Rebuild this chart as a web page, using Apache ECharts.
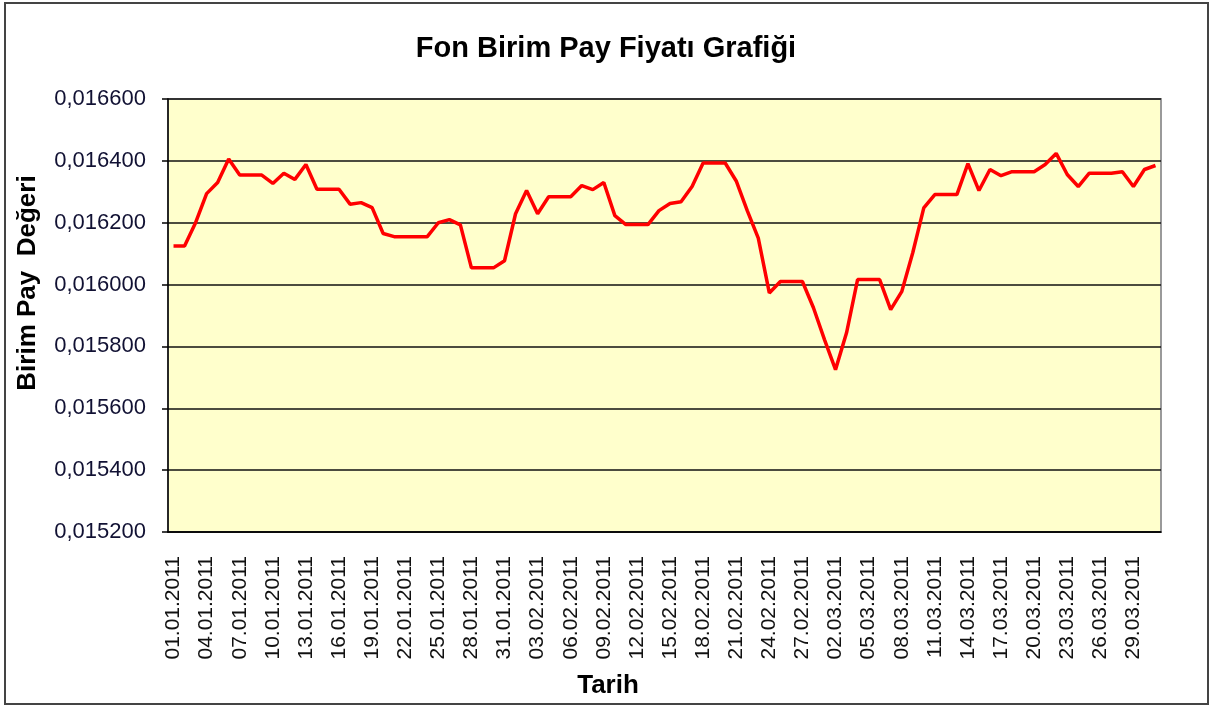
<!DOCTYPE html>
<html>
<head>
<meta charset="utf-8">
<title>Fon Birim Pay Fiyatı Grafiği</title>
<script src="https://cdn.jsdelivr.net/npm/echarts@6/dist/echarts.min.js"></script>
<style>
  html, body { margin: 0; padding: 0; background: #fff; }
  #chart { width: 1211px; height: 707px; }
</style>
</head>
<body>
<div id="chart"></div>
<script>
// gunluk tarihler 01.01.2011 - 31.03.2011
var monthDays = [31, 28, 31];
var dates = [];
for (var m = 0; m < monthDays.length; m++) {
  for (var d = 1; d <= monthDays[m]; d++) {
    dates.push((d < 10 ? '0' + d : '' + d) + '.0' + (m + 1) + '.2011');
  }
}

// birim pay fiyati
var prices = [
  0.016125, 0.016125, 0.016200, 0.016294, 0.016330, 0.016406, 0.016354, 0.016354, 0.016354, 0.016327,
  0.016360, 0.016340, 0.016388, 0.016308, 0.016308, 0.016308, 0.016260, 0.016265, 0.016249, 0.016165,
  0.016155, 0.016155, 0.016155, 0.016155, 0.016200, 0.016210, 0.016193, 0.016054, 0.016054, 0.016054,
  0.016077, 0.016229, 0.016304, 0.016229, 0.016284, 0.016284, 0.016284, 0.016320, 0.016307, 0.016330,
  0.016223, 0.016194, 0.016194, 0.016194, 0.016239, 0.016262, 0.016268, 0.016317, 0.016393, 0.016393,
  0.016393, 0.016335, 0.016239, 0.016150, 0.015973, 0.016010, 0.016010, 0.016010, 0.015925, 0.015822,
  0.015725, 0.015844, 0.016016, 0.016016, 0.016016, 0.015919, 0.015977, 0.016103, 0.016248, 0.016291,
  0.016291, 0.016291, 0.016391, 0.016304, 0.016372, 0.016352, 0.016365, 0.016365, 0.016365, 0.016388,
  0.016424, 0.016356, 0.016317, 0.016360, 0.016360, 0.016360, 0.016365, 0.016317, 0.016372, 0.016385
];

// y ekseni
var yMin = 0.0152;
var yMax = 0.0166;
var yStep = 0.0002;

var chartTitle = 'Fon Birim Pay Fiyatı Grafiği';
var yName = 'Birim Pay  Değeri';
var xName = 'Tarih';

var font = 'Arial, "Liberation Sans", sans-serif';

var chart = echarts.init(document.getElementById('chart'));

var option = {
  backgroundColor: '#ffffff',
  animation: false,
  title: {
    text: chartTitle,
    left: 601,
    top: 29,
    textAlign: 'center',
    textStyle: { fontFamily: font, fontSize: 29, fontWeight: 'bold', color: '#000' }
  },
  graphic: [{
    type: 'rect',
    shape: { x: 5, y: 3, width: 1203, height: 701 },
    style: { fill: null, stroke: '#444', lineWidth: 2 },
    silent: true
  }, {
    // eksen adi (y)
    type: 'text',
    x: 28,
    y: 283,
    rotation: Math.PI / 2,
    style: {
      text: yName,
      font: 'bold 26px ' + font,
      fill: '#000',
      align: 'center',
      verticalAlign: 'middle'
    },
    silent: true
  }, {
    // eksen adi (x)
    type: 'text',
    x: 608,
    y: 686,
    style: {
      text: xName,
      font: 'bold 26px ' + font,
      fill: '#000',
      align: 'center',
      verticalAlign: 'middle'
    },
    silent: true
  }],
  grid: {
    left: 168,
    right: 50,
    top: 99,
    bottom: 175,
    show: true,
    backgroundColor: '#ffffcc',
    borderColor: '#9a9a9a',
    borderWidth: 2
  },
  xAxis: {
    type: 'category',
    data: dates,
    boundaryGap: true,
    axisLine: { lineStyle: { color: '#000', width: 1.5 } },
    axisTick: { interval: 2, length: 7, lineStyle: { color: '#000', width: 1.5 } },
    axisLabel: {
      interval: 2,
      rotate: 90,
      margin: 24,
      fontFamily: font,
      fontSize: 21,
      color: '#111'
    },
    splitLine: { show: false }
  },
  yAxis: {
    type: 'value',
    min: yMin,
    max: yMax,
    interval: yStep,
    axisLine: { show: true, lineStyle: { color: '#000', width: 1.5 } },
    axisTick: { show: true, length: 6, lineStyle: { color: '#000', width: 1.5 } },
    axisLabel: {
      margin: 22,
      fontFamily: font,
      fontSize: 22,
      color: '#111133',
      formatter: function (v) { return v.toFixed(6).replace('.', ','); }
    },
    splitLine: { show: true, lineStyle: { color: '#111', width: 1.5 } }
  },
  series: [{
    type: 'line',
    data: prices,
    showSymbol: false,
    smooth: false,
    lineStyle: { color: '#ff0000', width: 3.5 },
    itemStyle: { color: '#ff0000' }
  }]
};

chart.setOption(option);
</script>
</body>
</html>
